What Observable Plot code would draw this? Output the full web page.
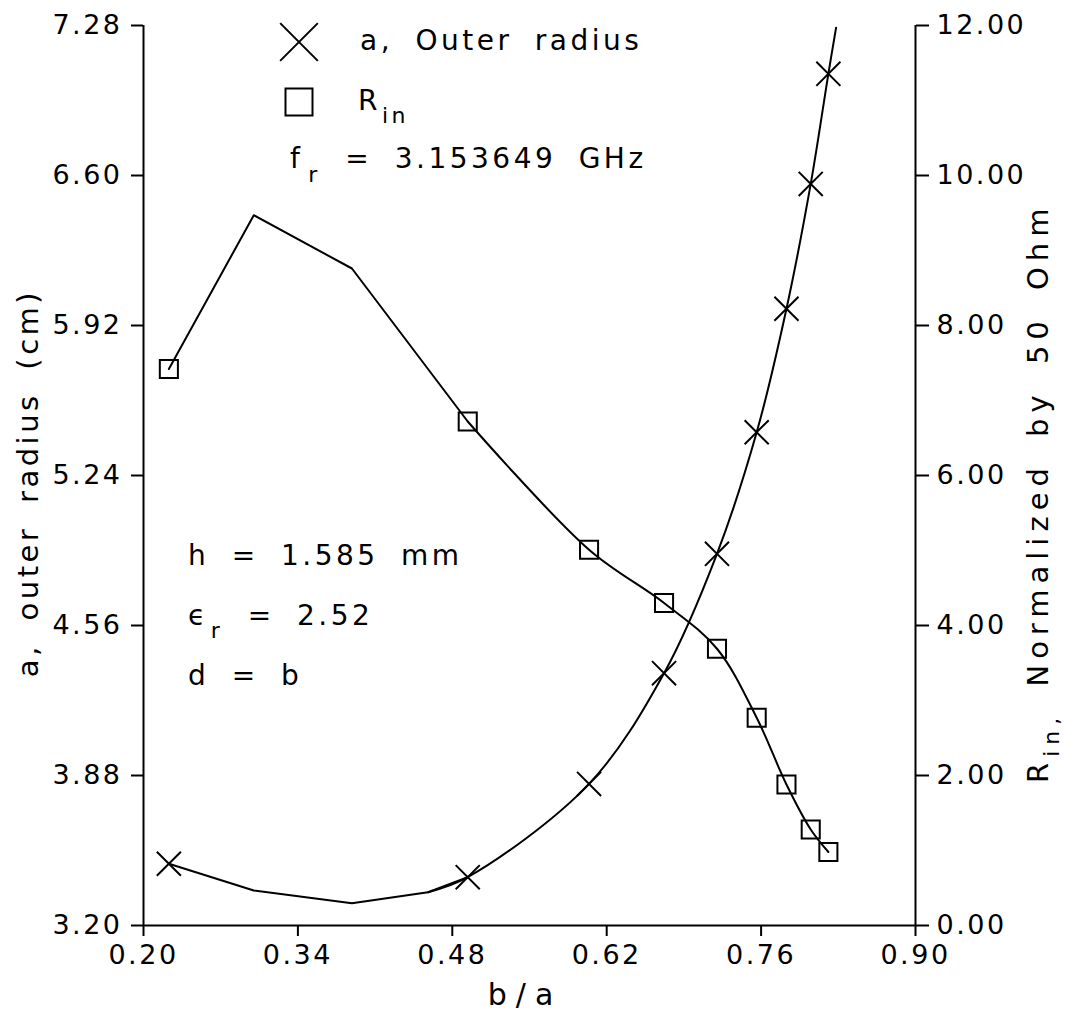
<!DOCTYPE html>
<html>
<head>
<meta charset="utf-8">
<script src="https://cdn.jsdelivr.net/npm/d3@7"></script>
<script src="https://cdn.jsdelivr.net/npm/@observablehq/plot@0.6"></script>
<style>
  body { margin: 0; background: #fff; }
</style>
</head>
<body>
<div id="chart"></div>
<script>
// ---- data ----
// b/a values at which the markers are drawn
const ratioMarked = [0.223, 0.494, 0.604, 0.672, 0.720, 0.756, 0.783, 0.805, 0.821];
// a, outer radius (cm) at the markers
const outerRadius = [3.480, 3.419, 3.842, 4.344, 4.885, 5.436, 5.996, 6.562, 7.061];
// R_in normalized by 50 Ohm at the markers
const rinNorm = [7.42, 6.72, 5.01, 4.30, 3.69, 2.77, 1.88, 1.28, 0.98];
// unmarked vertices of the a curve
const ratioKnotsA = [0.300, 0.389, 0.458];
const outerRadiusKnots = [3.359, 3.301, 3.351];
// unmarked vertices of the R_in curve
const ratioKnotsR = [0.300, 0.389];
const rinKnots = [9.47, 8.76];
// end of the a curve at the top of the frame
const ratioEndA = [0.828];
const outerRadiusEnd = [7.27];

// ticks
const xTicks = [0.20, 0.34, 0.48, 0.62, 0.76, 0.90];
const aTicks = [3.20, 3.88, 4.56, 5.24, 5.92, 6.60, 7.28];
const rinTicks = [0, 2, 4, 6, 8, 10, 12];

const aMin = 3.20, aMax = 7.28, rMax = 12;
const toA = r => aMin + r * (aMax - aMin) / rMax;
const toR = a => (a - aMin) * rMax / (aMax - aMin);

// ---- series built from the arrays ----
const aLeft = [[ratioMarked[0], outerRadius[0]],
  ...ratioKnotsA.map((x, i) => [x, outerRadiusKnots[i]]),
  [ratioMarked[1], outerRadius[1]]];
const aRight = [[ratioKnotsA[2], outerRadiusKnots[2]],
  ...ratioMarked.slice(1).map((x, i) => [x, outerRadius[i + 1]]),
  [ratioEndA[0], outerRadiusEnd[0]]];
const rLeft = [[ratioMarked[0], rinNorm[0]],
  ...ratioKnotsR.map((x, i) => [x, rinKnots[i]]),
  [ratioMarked[1], rinNorm[1]]];
const rRight = ratioMarked.slice(1).map((x, i) => [x, rinNorm[i + 1]]);
const aPts = ratioMarked.map((x, i) => [x, outerRadius[i]]);
const rPts = ratioMarked.map((x, i) => [x, rinNorm[i]]);

const FONT = "DejaVu Sans";

const chart = Plot.plot({
  width: 1074,
  height: 1019,
  marginLeft: 143,
  marginRight: 159,
  marginTop: 25,
  marginBottom: 94,
  style: `font-family: '${FONT}'; font-size: 27px; letter-spacing: 2.5px; background: #fff; color: #000; overflow: visible;`,
  x: { domain: [0.20, 0.90] },
  y: { domain: [aMin, aMax] },
  marks: [
    Plot.ruleX([0.20], { strokeWidth: 2 }),
    Plot.ruleX([0.90], { strokeWidth: 2 }),
    Plot.ruleY([aMin], { strokeWidth: 2 }),
    Plot.axisX({ ticks: xTicks, tickFormat: d => d.toFixed(2), tickSize: 11, tickPadding: 8,
      label: null, fontSize: 27, strokeWidth: 2 }),
    Plot.axisY({ anchor: "left", ticks: aTicks, tickFormat: d => d.toFixed(2), tickSize: 12,
      tickPadding: 9, label: null, fontSize: 27, strokeWidth: 2 }),
    Plot.axisY({ anchor: "right", ticks: rinTicks.map(toA), tickFormat: d => toR(d).toFixed(2),
      tickSize: 13, tickPadding: 8, label: null, fontSize: 27, strokeWidth: 2 }),
    // a curve
    Plot.line(aLeft, { x: d => d[0], y: d => d[1], stroke: "#000", strokeWidth: 2 }),
    Plot.line(aRight, { x: d => d[0], y: d => d[1], stroke: "#000", strokeWidth: 2, curve: "catmull-rom" }),
    // R_in curve
    Plot.line(rLeft, { x: d => d[0], y: d => toA(d[1]), stroke: "#000", strokeWidth: 2 }),
    Plot.line(rRight, { x: d => d[0], y: d => toA(d[1]), stroke: "#000", strokeWidth: 2, curve: "catmull-rom" }),
    // markers
    Plot.dot(aPts, { x: d => d[0], y: d => d[1], symbol: "times", r: 11, stroke: "#000", strokeWidth: 2 }),
    Plot.dot(rPts, { x: d => d[0], y: d => toA(d[1]), symbol: "square", r: 10.2, stroke: "#000", fill: "none", strokeWidth: 2 })
  ]
});

document.getElementById("chart").appendChild(chart);

// ---- annotations, legend and axis titles (positions relative to the frame) ----
const svg = d3.select(chart);
const sx = chart.scale("x"), sy = chart.scale("y");
const X0 = sx.range[0];           // left edge of frame
const Y0 = sy.range[1];           // top edge of frame
const X1 = sx.range[1];
const Ymid = (sy.range[0] + sy.range[1]) / 2;

const g = svg.append("g").attr("fill", "#000");

function label(x, y, segs, { size = 28, ls = 3.5, ws = 10, rotate = 0, anchor = "start" } = {}) {
  const t = g.append("text")
    .attr("transform", `translate(${x},${y}) rotate(${rotate})`)
    .attr("font-family", FONT)
    .attr("font-size", size)
    .attr("text-anchor", anchor)
    .style("letter-spacing", ls + "px")
    .style("word-spacing", ws + "px");
  let shift = 0;
  for (const s of segs) {
    const sub = s.sub || 0;
    const sp = t.append("tspan").text(s.t).attr("dy", sub - shift);
    if (s.size) sp.attr("font-size", s.size);
    if (s.dx) sp.attr("dx", s.dx);
    shift = sub;
  }
  return t;
}

// legend symbols
g.append("path")
  .attr("d", d3.symbol(d3.symbolTimes, 929)())
  .attr("transform", `translate(${X0 + 156},${Y0 + 17})`)
  .attr("fill", "none").attr("stroke", "#000").attr("stroke-width", 2);
g.append("path")
  .attr("d", d3.symbol(d3.symbolSquare, 729)())
  .attr("transform", `translate(${X0 + 156},${Y0 + 77})`)
  .attr("fill", "none").attr("stroke", "#000").attr("stroke-width", 2);

label(X0 + 217, Y0 + 25, [{ t: "a, Outer radius" }]);
label(X0 + 215, Y0 + 85, [{ t: "R" }, { t: "in", sub: 13, size: 22, dx: 1 }]);
label(X0 + 147, Y0 + 143, [{ t: "f" }, { t: "r", sub: 14, size: 22, dx: 5 }, { t: " = 3.153649 GHz", sub: 0, dx: 2 }]);

label(X0 + 45, Y0 + 540, [{ t: "h = 1.585 mm" }]);
label(X0 + 45, Y0 + 600, [{ t: "ϵ" }, { t: "r", sub: 13, size: 22, dx: 2 }, { t: " = 2.52", sub: 0, dx: 2 }]);
label(X0 + 45, Y0 + 660, [{ t: "d = b" }]);

// axis titles
label(X0 - 105, Ymid + 8, [{ t: "a, outer radius (cm)" }], { size: 29, rotate: -90, anchor: "middle" });
label(X1 + 133, sy.range[0] - 142, [{ t: "R" }, { t: "in,", sub: 11, size: 22 }, { t: " Normalized by 50 Ohm", sub: 0 }],
  { size: 29, ls: 6, rotate: -90 });
label((X0 + X1) / 2 - 4, sy.range[0] + 80, [{ t: "b/a" }], { size: 30, ls: 9, anchor: "middle" });
</script>
</body>
</html>
